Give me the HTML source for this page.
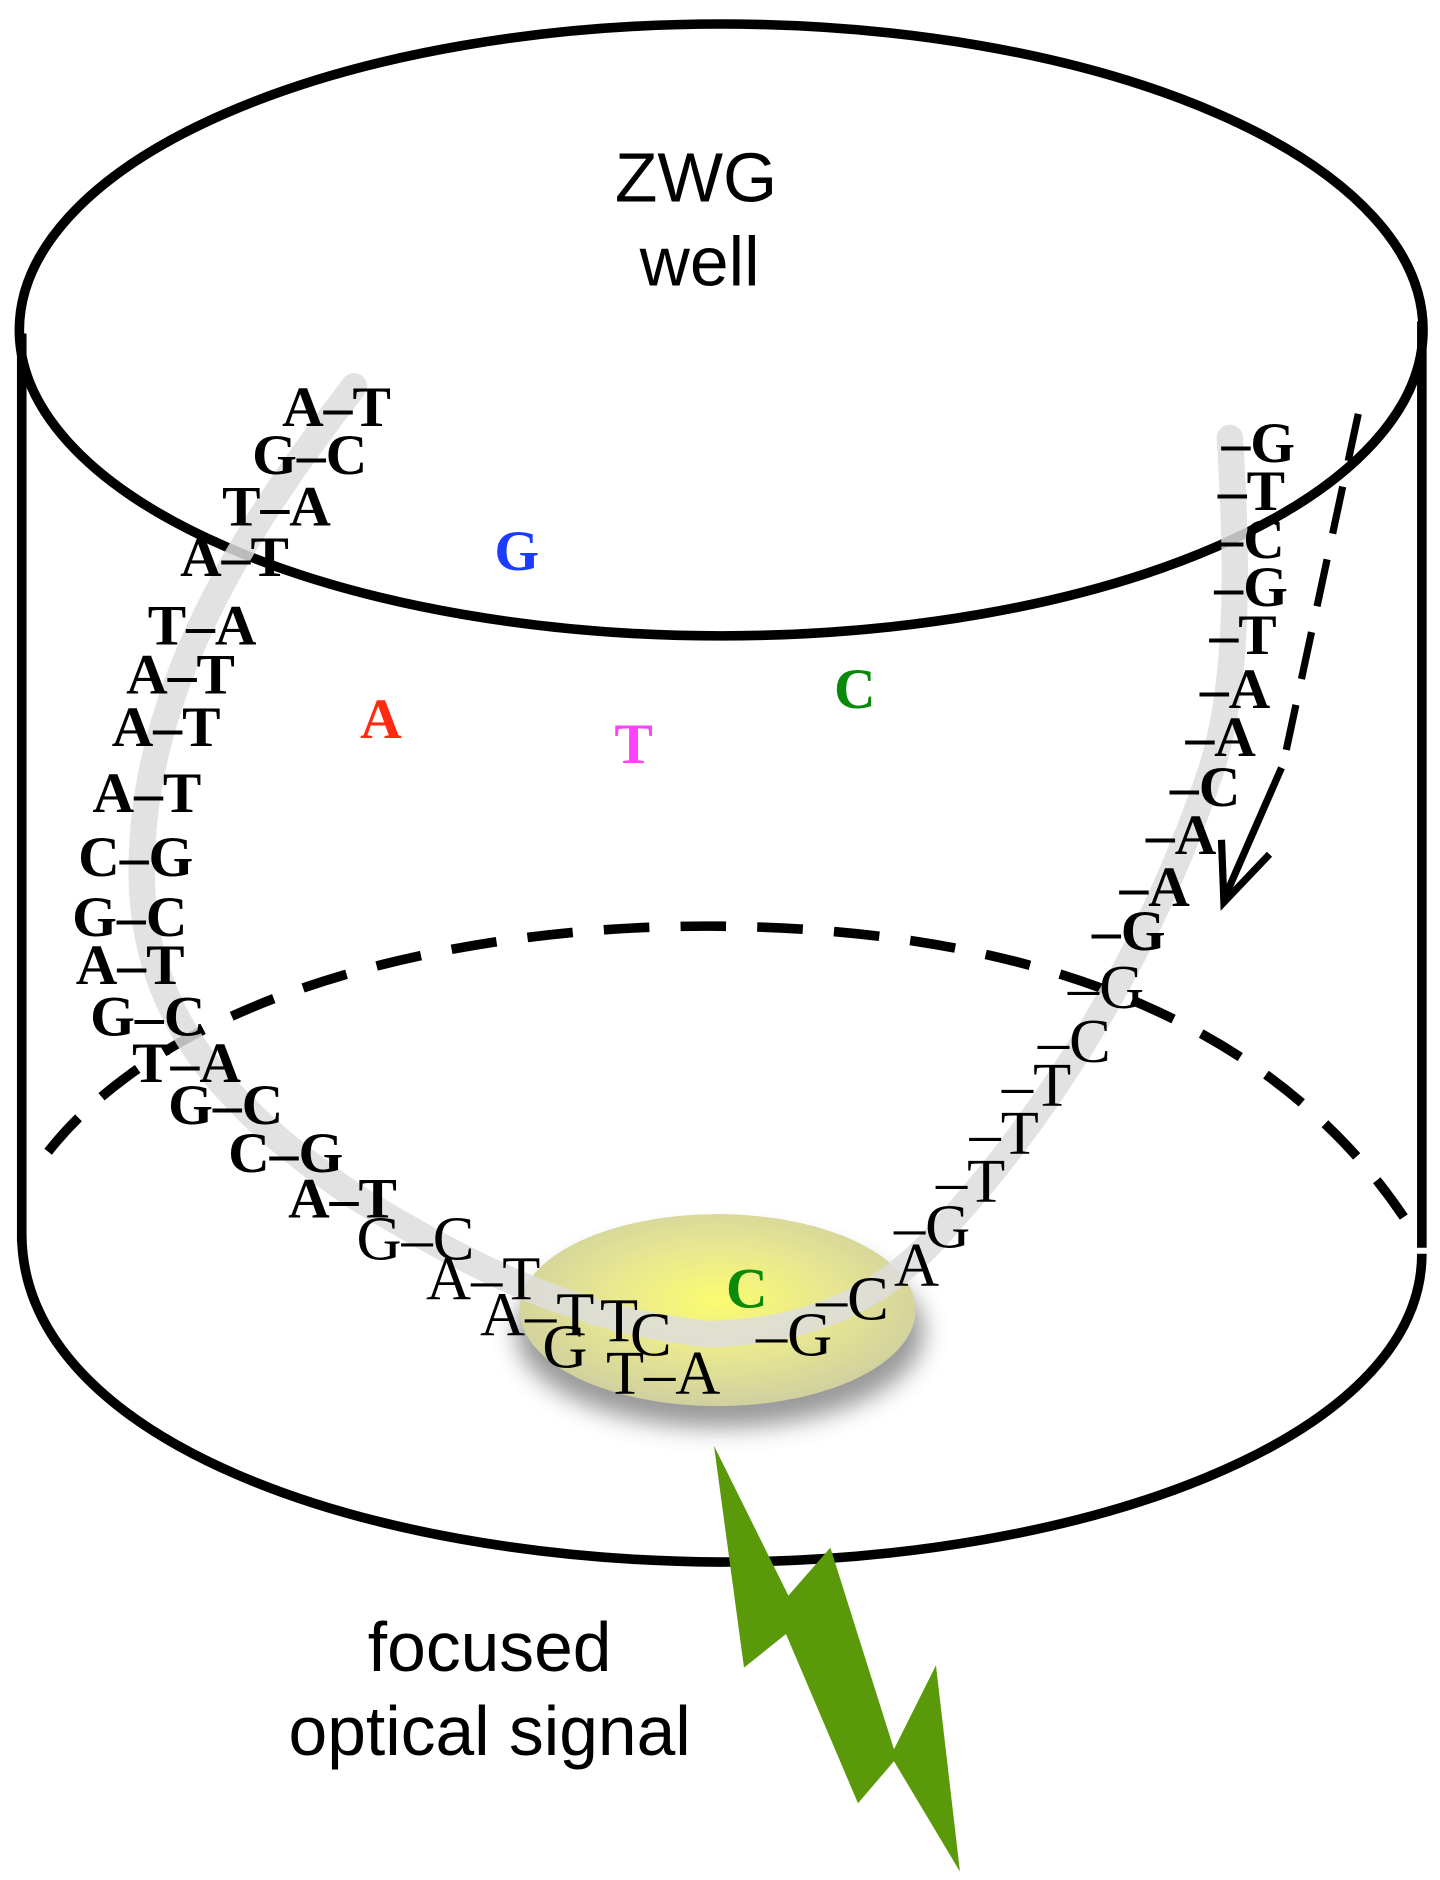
<!DOCTYPE html>
<html><head><meta charset="utf-8"><style>
html,body{margin:0;padding:0;background:#fff;width:1440px;height:1880px;overflow:hidden}
svg{display:block}
.b{font-family:"Liberation Serif",serif;font-weight:bold;font-size:48px;fill:#000}
.s{font-family:"Liberation Serif",serif;font-size:52px;fill:#000}
.lab{font-family:"Liberation Sans",sans-serif;font-size:58px;fill:#000;text-anchor:middle}
</style></head><body>
<svg width="1440" height="1880" viewBox="0 0 1200 1567" xmlns="http://www.w3.org/2000/svg">
<defs>
<radialGradient id="disc" cx="50%" cy="45%" r="55%">
<stop offset="0" stop-color="#fbfb70"/><stop offset="0.5" stop-color="#e8e890"/><stop offset="1" stop-color="#d0d0a0"/>
</radialGradient>
<filter id="sh" x="-30%" y="-30%" width="160%" height="180%"><feGaussianBlur stdDeviation="10"/></filter>
</defs>
<path d="M40,960 C150,820 400,770 600,772 C800,774 1050,820 1180,1030" fill="none" stroke="#000" stroke-width="8" stroke-dasharray="38,26"/>
<path d="M18,1030 C20,1200 300,1300 600,1302 C900,1302 1185,1200 1185,1045" fill="none" stroke="#000" stroke-width="8"/>
<line x1="18" y1="278" x2="18" y2="1035" stroke="#000" stroke-width="8"/>
<line x1="1185" y1="268" x2="1185" y2="1040" stroke="#000" stroke-width="8"/>
<ellipse cx="601" cy="275" rx="585" ry="255" fill="none" stroke="#000" stroke-width="8"/>
<ellipse cx="600" cy="1110" rx="170" ry="80" fill="#555" opacity="0.6" filter="url(#sh)"/>
<ellipse cx="598" cy="1092" rx="165" ry="80" fill="url(#disc)"/>
<path d="M295,322 C220,420 120,560 118,720 C116,840 180,920 300,1000 C400,1060 480,1100 590,1112 C680,1110 740,1080 790,1020 C880,920 960,790 1010,640 C1035,560 1030,450 1025,365" fill="none" stroke="#ddd" stroke-width="22" stroke-linecap="round" opacity="0.85"/>
<path d="M1132,345 L1072,625" fill="none" stroke="#000" stroke-width="6" stroke-dasharray="40,22"/>
<line x1="1068" y1="640" x2="1022" y2="745" stroke="#000" stroke-width="6"/>
<path d="M1018,700 L1020,752 L1058,712" fill="none" stroke="#000" stroke-width="6"/>
<text class="lab" x="580" y="168">ZWG</text>
<text class="lab" x="583" y="238">well</text>
<text class="lab" x="408" y="1393">focused</text>
<text class="lab" x="408" y="1463">optical signal</text>
<polygon points="595,1205 657,1330 692,1290 745,1458 780,1388 800,1560 745,1468 715,1503 655,1362 620,1390" fill="#5a9a0a"/>
<g style="font-family:'Liberation Serif',serif;font-weight:bold;font-size:48px">
<text x="412" y="475" fill="#1a3cff">G</text>
<text x="300" y="615" fill="#ff2a10">A</text>
<text x="512" y="636" fill="#ff40ff">T</text>
<text x="695" y="590" fill="#0a8a0a">C</text>
<text x="605" y="1090" fill="#0a8a0a">C</text>
</g>
<g class="b">
<text x="235" y="355">A–T</text>
<text x="210" y="395">G–C</text>
<text x="185" y="438">T–A</text>
<text x="150" y="480">A–T</text>
<text x="123" y="537">T–A</text>
<text x="105" y="578">A–T</text>
<text x="93" y="622">A–T</text>
<text x="77" y="677">A–T</text>
<text x="65" y="730">C–G</text>
<text x="60" y="780">G–C</text>
<text x="63" y="820">A–T</text>
<text x="75" y="863">G–C</text>
<text x="110" y="902">T–A</text>
<text x="140" y="937">G–C</text>
<text x="190" y="977">C–G</text>
<text x="240" y="1015">A–T</text>
</g>
<g class="s">
<text x="297" y="1050">G–C</text>
<text x="355" y="1083">A–T</text>
<text x="400" y="1113">A–T</text>
<text x="452" y="1140">G</text>
<text x="500" y="1118">T</text>
<text x="525" y="1130">C</text>
<text x="505" y="1162">T–A</text>
<text x="630" y="1130">–G</text>
<text x="680" y="1100">–C</text>
<text x="745" y="1072">A</text>
<text x="745" y="1040">–G</text>
<text x="780" y="1002">–T</text>
<text x="808" y="962">–T</text>
<text x="835" y="922">–T</text>
<text x="865" y="885">–C</text>
<text x="890" y="840">–G</text>
</g>
<g class="b">
<text x="910" y="792">–G</text>
<text x="933" y="755">–A</text>
<text x="955" y="712">–A</text>
<text x="975" y="672">–C</text>
<text x="988" y="630">–A</text>
<text x="1000" y="590">–A</text>
<text x="1008" y="545">–T</text>
<text x="1012" y="505">–G</text>
<text x="1012" y="465">–C</text>
<text x="1015" y="425">–T</text>
<text x="1018" y="385">–G</text>
</g>
</svg>
</body></html>
